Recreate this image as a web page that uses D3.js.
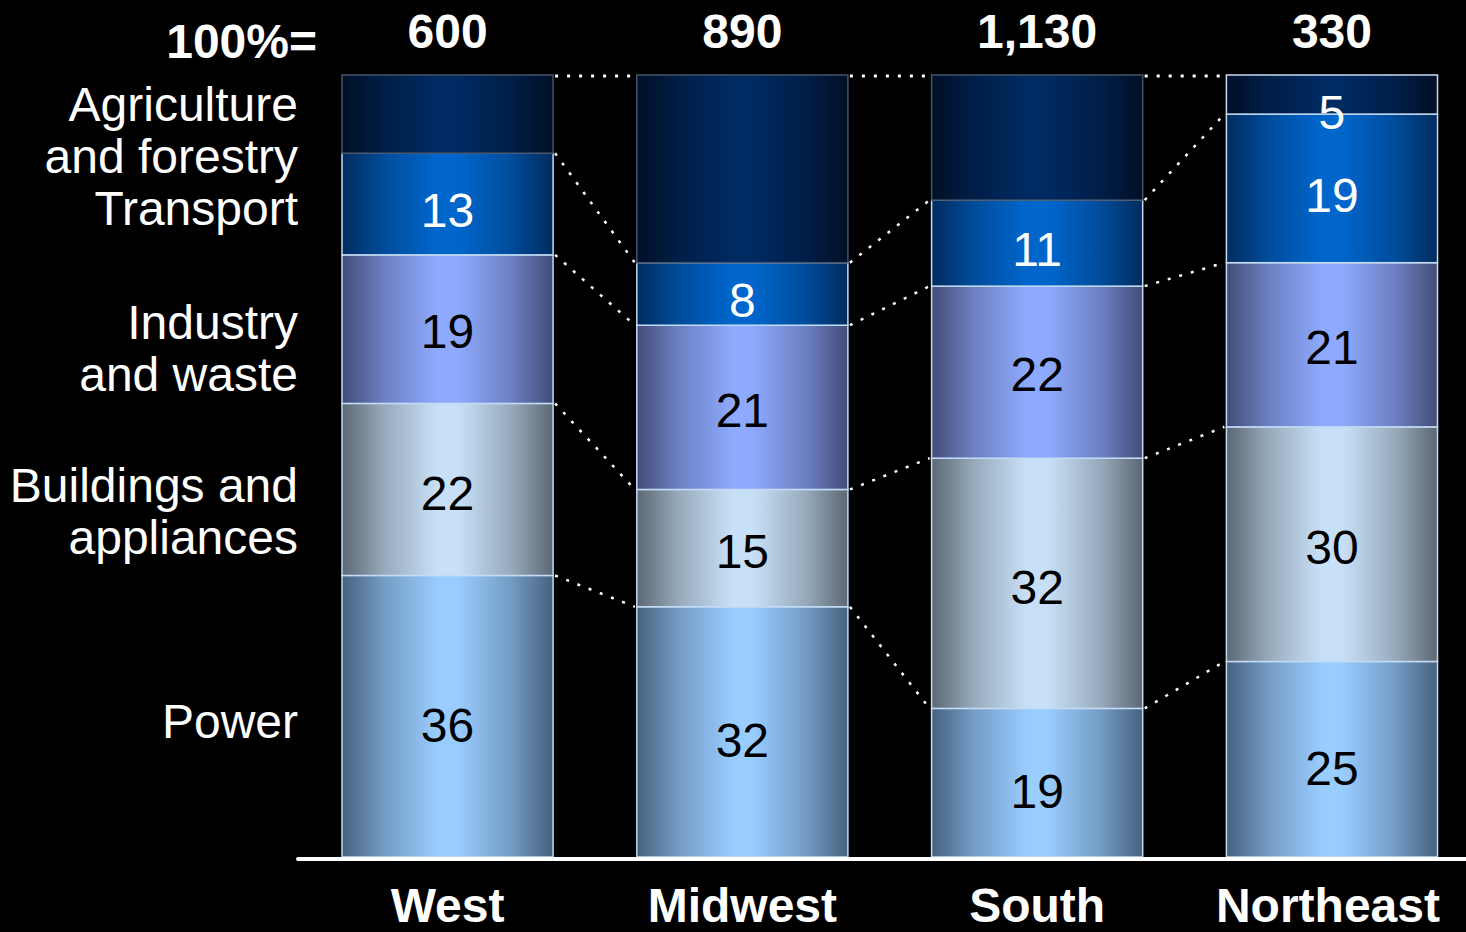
<!DOCTYPE html>
<html>
<head>
<meta charset="utf-8">
<script src="https://cdn.jsdelivr.net/npm/d3@7"></script>
<style>
  html, body { margin: 0; padding: 0; background: #000; }
  svg { display: block; }
  text { font-family: "Liberation Sans", Arial, sans-serif; }
</style>
</head>
<body>
<svg id="chart" width="1466" height="932"></svg>
<script>
// ---- Data ----
const regions = ["West", "Midwest", "South", "Northeast"];
const totals = ["600", "890", "1,130", "330"];
const seriesKeys = ["power", "buildings", "industry", "transport", "agriculture"];
const power = [36, 32, 19, 25];
const buildings = [22, 15, 32, 30];
const industry = [19, 21, 22, 21];
const transport = [13, 8, 11, 19];
const agriculture = [10, 24, 16, 5];
const agricultureLabelShown = [false, false, false, true];
const legendLabels = [
  ["Agriculture", "and forestry"],
  ["Transport"],
  ["Industry", "and waste"],
  ["Buildings and", "appliances"],
  ["Power"]
];
const totalLabel = "100%=";
const yDomain = [0, 100];

// ---- Styles ----
const fills = {
  power:       { edge: "#46617e", center: "#99ccff" },
  buildings:   { edge: "#5c6873", center: "#c8e0f7" },
  industry:    { edge: "#434c78", center: "#8eaafe" },
  transport:   { edge: "#002c5e", center: "#0066cc" },
  agriculture: { edge: "#000f26", center: "#002a62" }
};
const labelColor = { power: "#000", buildings: "#000", industry: "#000", transport: "#fff", agriculture: "#fff" };
const labelShift = { power: 8, buildings: 3, industry: 2, transport: 6, agriculture: 0 };

const svg = d3.select("#chart");
svg.append("rect").attr("width", 1466).attr("height", 932).attr("fill", "#000");

const defs = svg.append("defs");
seriesKeys.forEach(k => {
  const g = defs.append("linearGradient").attr("id", "g-" + k)
    .attr("x1", 0).attr("x2", 1).attr("y1", 0).attr("y2", 0);
  const mid = d3.interpolateRgb(fills[k].edge, fills[k].center);
  [[0, 0], [0.2, 0.55], [0.45, 1], [0.55, 1], [0.8, 0.55], [1, 0]].forEach(([o, t]) => {
    g.append("stop").attr("offset", o).attr("stop-color", mid(t));
  });
});

// ---- Scales ----
const x = d3.scaleBand().domain(regions).range([342, 1437.5]).paddingInner(0.284).paddingOuter(0);
const y = d3.scaleLinear().domain(yDomain).range([857, 75]);

const table = regions.map((r, i) => ({
  region: r, power: power[i], buildings: buildings[i], industry: industry[i],
  transport: transport[i], agriculture: agriculture[i]
}));
const stacked = d3.stack().keys(seriesKeys)(table);

// ---- Connectors ----
const conn = svg.append("g");
stacked.forEach(layer => {
  for (let i = 0; i < regions.length - 1; i++) {
    const a = layer[i], b = layer[i + 1];
    const isTop = layer.key === "agriculture";
    conn.append("line")
      .attr("x1", x(regions[i]) + x.bandwidth() + 2)
      .attr("y1", y(a[1]) + (isTop ? 1 : 0))
      .attr("x2", x(regions[i + 1]) - 2)
      .attr("y2", y(b[1]) + (isTop ? 1 : 0))
      .attr("stroke", "#fff")
      .attr("stroke-width", isTop ? 3 : 2.5)
      .attr("stroke-dasharray", "3,9");
  }
});

// ---- Bars ----
const layers = svg.append("g").selectAll("g").data(stacked).join("g");
layers.selectAll("rect").data(d => d.map((v, i) => ({ key: d.key, v, i })))
  .join("rect")
  .attr("x", d => x(regions[d.i]))
  .attr("y", d => y(d.v[1]))
  .attr("width", x.bandwidth())
  .attr("height", d => y(d.v[0]) - y(d.v[1]))
  .attr("fill", d => `url(#g-${d.key})`)
  .attr("stroke", d => d.key === "agriculture" && d.i < 3 ? "#44556b" : "#c3dbf4")
  .attr("stroke-width", 1.5);

// ---- Value labels ----
layers.selectAll("text").data(d => d.map((v, i) => ({ key: d.key, v, i })))
  .join("text")
  .filter(d => d.key !== "agriculture" || agricultureLabelShown[d.i])
  .attr("x", d => x(regions[d.i]) + x.bandwidth() / 2)
  .attr("y", d => {
    const c = (y(d.v[0]) + y(d.v[1])) / 2 + labelShift[d.key];
    return Math.max(c, y(d.v[1]) + 37);
  })
  .attr("dy", "0.36em")
  .attr("text-anchor", "middle")
  .attr("font-size", 48)
  .attr("fill", d => labelColor[d.key])
  .text(d => d.v[1] - d.v[0]);

// ---- Baseline ----
svg.append("line")
  .attr("x1", 298).attr("x2", 1470).attr("y1", 859).attr("y2", 859)
  .attr("stroke", "#fff").attr("stroke-width", 4).attr("stroke-linecap", "round");

// ---- Totals ----
svg.append("g").selectAll("text").data(regions).join("text")
  .attr("x", d => x(d) + x.bandwidth() / 2)
  .attr("y", 48)
  .attr("text-anchor", "middle")
  .attr("font-size", 48).attr("font-weight", "bold").attr("fill", "#fff")
  .text((d, i) => totals[i]);
svg.append("text").attr("x", 317).attr("y", 58).attr("text-anchor", "end")
  .attr("font-size", 48).attr("font-weight", "bold").attr("fill", "#fff").text(totalLabel);

// ---- Region labels ----
svg.append("g").selectAll("text").data(regions).join("text")
  .attr("x", d => x(d) + x.bandwidth() / 2 - (d === "Northeast" ? 4 : 0))
  .attr("y", 922)
  .attr("text-anchor", "middle")
  .attr("font-size", 48).attr("font-weight", "bold").attr("fill", "#fff")
  .text(d => d);

// ---- Legend labels ----
const legendBaselines = [[121, 173], [225], [339, 391], [502, 554], [738]];
const lg = svg.append("g");
legendLabels.forEach((lines, j) => {
  lines.forEach((t, k) => {
    lg.append("text").attr("x", 298).attr("y", legendBaselines[j][k])
      .attr("text-anchor", "end").attr("font-size", 48).attr("fill", "#fff").text(t);
  });
});
</script>
</body>
</html>
